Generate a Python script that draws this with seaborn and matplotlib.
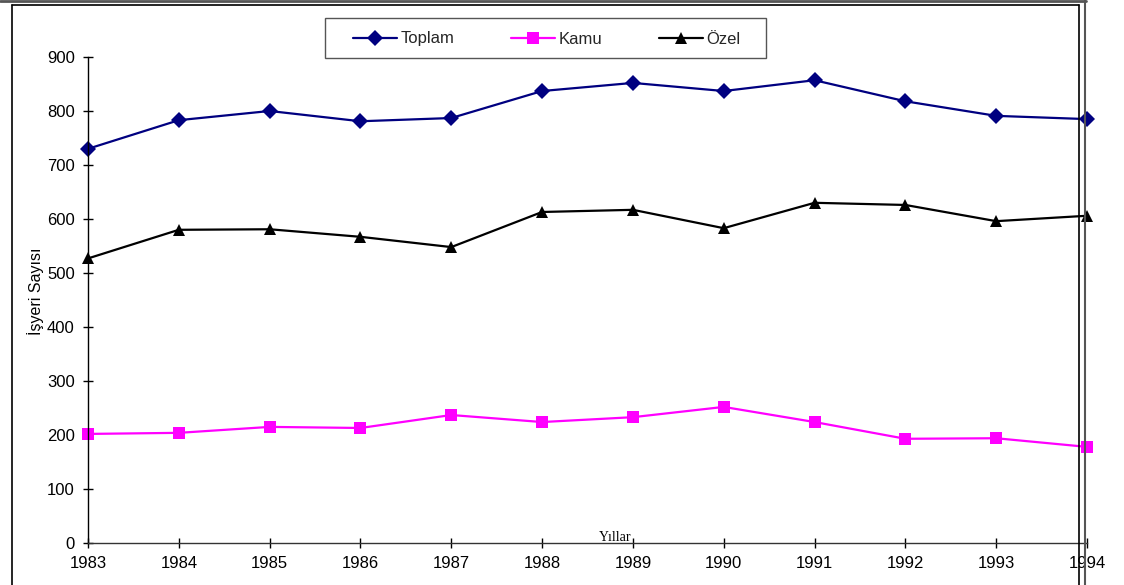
import pandas as pd
import matplotlib
matplotlib.use("Agg")
import matplotlib.pyplot as plt
from matplotlib.lines import Line2D
from matplotlib.patches import Rectangle
import seaborn as sns

# Data
years = [1983, 1984, 1985, 1986, 1987, 1988, 1989, 1990, 1991, 1992, 1993, 1994]
toplam = [730, 783, 800, 781, 787, 837, 852, 837, 857, 818, 791, 785]
kamu = [202, 204, 215, 213, 237, 224, 233, 252, 224, 193, 194, 178]
ozel = [527, 580, 581, 567, 548, 613, 617, 583, 630, 626, 596, 606]
series_names = ["Toplam", "Kamu", "Özel"]
y_ticks = [0, 100, 200, 300, 400, 500, 600, 700, 800, 900]

df = pd.DataFrame({
    "Yıl": years * 3,
    "Değer": toplam + kamu + ozel,
    "Seri": [s for s in series_names for _ in years],
})

sns.set_theme(style="white")
plt.rcParams["font.family"] = ["Liberation Sans", "DejaVu Sans"]

W, H = 1124, 585
fig = plt.figure(figsize=(W / 100, H / 100), dpi=100)
ax = fig.add_axes([88 / W, 1 - 543 / H, (1087 - 88) / W, (543 - 57) / H])

palette = {"Toplam": "#000080", "Kamu": "#FF00FF", "Özel": "#000000"}
markers = {"Toplam": "D", "Kamu": "s", "Özel": "^"}
sns.lineplot(data=df, x="Yıl", y="Değer", hue="Seri", style="Seri",
             palette=palette, markers=markers, dashes=False,
             hue_order=series_names, style_order=series_names,
             linewidth=1.6, markersize=9, markeredgewidth=0,
             ax=ax, clip_on=False)

for line in ax.lines:
    line.set_clip_on(False)
    if line.get_marker() == "D":
        line.set_markersize(8.5)

ax.set_xlim(1983, 1994)
ax.set_ylim(0, 900)
ax.set_xticks(years)
ax.set_yticks(y_ticks)
ax.tick_params(axis="both", direction="inout", length=7, width=1,
               color="black", labelsize=12, labelcolor="black", pad=6,
               left=True, bottom=True)
for side in ["top", "right"]:
    ax.spines[side].set_visible(False)
ax.spines["left"].set_color("black")
ax.spines["bottom"].set_color("#333333")
ax.spines["left"].set_linewidth(1)
ax.spines["bottom"].set_linewidth(1)

ax.set_xlabel("")
ax.set_ylabel("")
fig.text(36 / W, 1 - 291 / H, "İşyeri Sayısı", rotation=90, ha="center",
         va="center", fontsize=11.5, color="black")
ax.text(0.528, 0.012, "Yıllar", transform=ax.transAxes, ha="center", va="center",
        fontsize=10, family="Liberation Serif", color="black")

# Legend
handles, labels = ax.get_legend_handles_labels()
ax.get_legend().remove()
for h in handles:
    h.set_linewidth(1.6)
    if h.get_marker() == "D":
        h.set_markersize(8.5)
    else:
        h.set_markersize(9)
leg = fig.legend(handles, labels, loc="center",
                 bbox_to_anchor=(547 / W, 1 - 39 / H), ncol=3,
                 fontsize=12, handlelength=2.6, columnspacing=3.4,
                 handletextpad=0.25, frameon=False, borderpad=0,
                 borderaxespad=0)
fig.add_artist(Rectangle((325 / W, 1 - 58 / H), (766 - 325) / W, 40 / H,
                         transform=fig.transFigure, fill=False,
                         edgecolor="#555555", linewidth=1))

# Outer frame decorations
def px_line(x0, y0, x1, y1, color, lw):
    fig.add_artist(Line2D([x0 / W, x1 / W], [1 - y0 / H, 1 - y1 / H],
                          transform=fig.transFigure, color=color, linewidth=lw))

px_line(0, 1, 1086, 1, "#555555", 2)
px_line(1085, 0, 1085, H, "#555555", 1.5)
px_line(12, 5, 1079, 5, "black", 1.2)
px_line(12, 5, 12, H, "black", 1.2)
px_line(1079, 5, 1079, H, "black", 1.2)

fig.savefig("out.png", dpi=100)
